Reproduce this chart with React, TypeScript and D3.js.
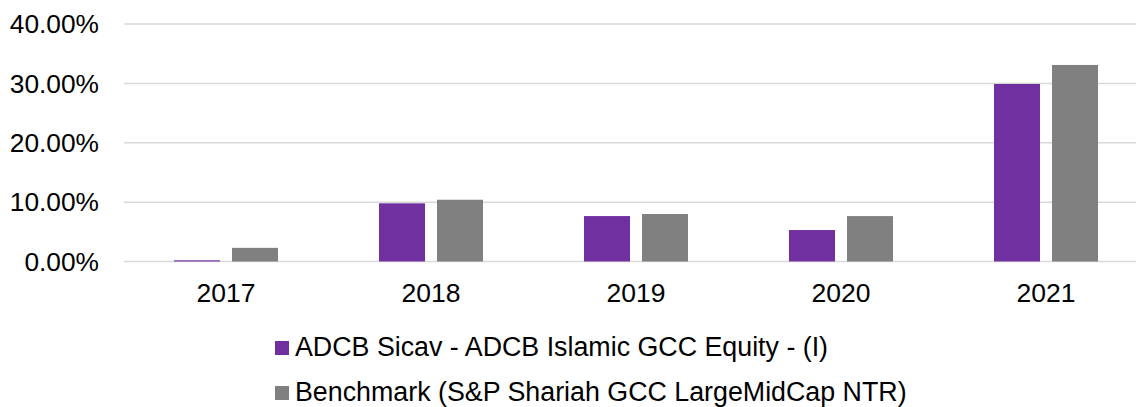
import * as d3 from "d3";

const years = ["2017", "2018", "2019", "2020", "2021"];
const fundValues = [0.002, 0.098, 0.0765, 0.053, 0.299];
const benchmarkValues = [0.023, 0.104, 0.08, 0.0765, 0.331];
const seriesNames = [
  "ADCB Sicav - ADCB Islamic GCC Equity - (I)",
  "Benchmark (S&P Shariah GCC LargeMidCap NTR)",
];
const seriesColors = ["#7030A0", "#808080"];
const yTicks = [0, 0.1, 0.2, 0.3, 0.4];

const width = 1136;
const height = 407;
const font = "Liberation Sans, Arial, sans-serif";

const App = () => {
  const x0 = d3.scaleBand<string>().domain(years).range([123.5, 1148.5]);
  const x1 = d3
    .scaleBand<number>()
    .domain([0, 1])
    .range([50.5, 154.5])
    .paddingInner(12 / 58);
  const y = d3.scaleLinear().domain([0, 0.4]).range([261.5, 24]);
  const fmt = d3.format(".2%");
  const values = [fundValues, benchmarkValues];

  return (
    <svg
      width={width}
      height={height}
      style={{ position: "absolute", left: 0, top: 0, background: "#fff" }}
      fontFamily={font}
    >
      {/* gridlines */}
      {yTicks.map((t) => (
        <line
          key={t}
          x1={124}
          x2={width}
          y1={y(t)}
          y2={y(t)}
          stroke="#d9d9d9"
          strokeWidth={1.5}
        />
      ))}
      {yTicks.map((t) => (
        <text
          key={t}
          x={99}
          y={y(t)}
          dy="0.35em"
          textAnchor="end"
          fontSize={26.3}
          fill="#000"
        >
          {fmt(t)}
        </text>
      ))}

      {/* bars */}
      {years.map((yr, i) => (
        <g key={yr} transform={`translate(${x0(yr)},0)`}>
          {values.map((vals, s) => (
            <rect
              key={s}
              x={x1(s)}
              y={y(vals[i])}
              width={x1.bandwidth()}
              height={y(0) - y(vals[i])}
              fill={seriesColors[s]}
            />
          ))}
          <text
            x={x0.bandwidth() / 2}
            y={302}
            textAnchor="middle"
            fontSize={26.5}
            fill="#000"
          >
            {yr}
          </text>
        </g>
      ))}

      {/* legend */}
      {seriesNames.map((name, s) => (
        <g key={name} transform={`translate(275,${341 + s * 45})`}>
          <rect width={14} height={14} fill={seriesColors[s]} />
          <text x={20} y={15} fontSize={26.8} fill="#000">
            {name}
          </text>
        </g>
      ))}
    </svg>
  );
};

export default App;
